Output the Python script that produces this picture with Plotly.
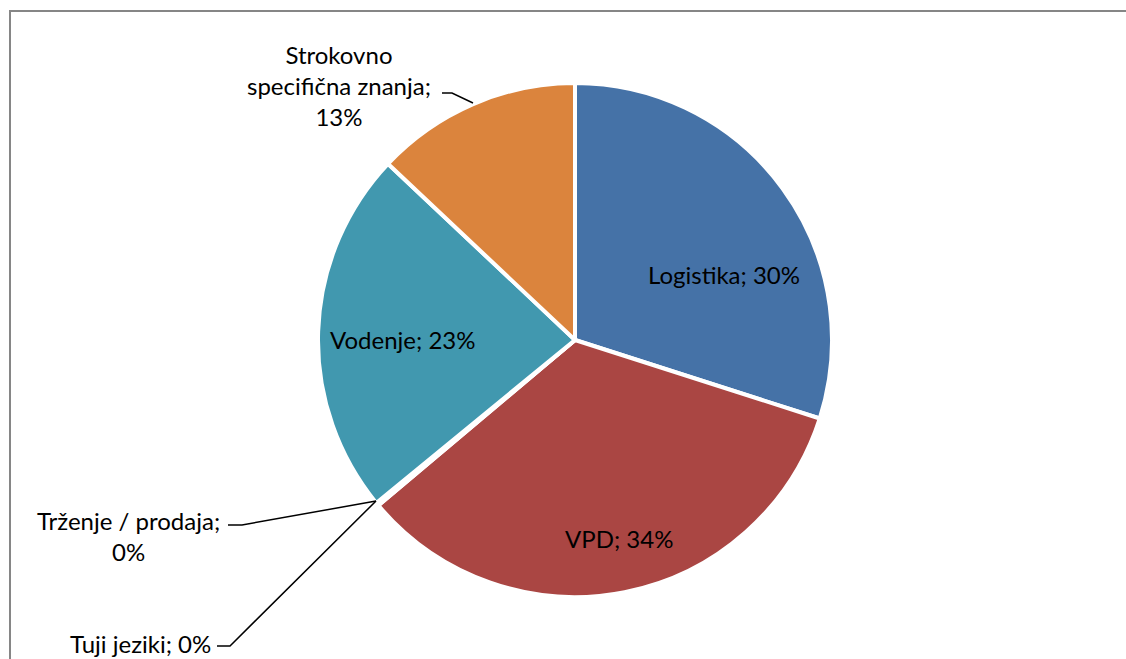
import plotly.graph_objects as go

W, H = 1126, 659

# slice data, clockwise from 12 o'clock
labels = ["Logistika", "VPD", "Tuji jeziki", "Trženje / prodaja", "Vodenje", "Strokovno specifična znanja"]
values = [30, 34, 0.1, 0.1, 23, 13]
shown_pct = [30, 34, 0, 0, 23, 13]
colors = ["#4572A7", "#AA4643", "#89A54E", "#71588F", "#4198AF", "#DB843D"]

# label text split into lines (as in the original chart)
label_lines = [
    ["Logistika; {p}%"],
    ["VPD; {p}%"],
    ["Tuji jeziki; {p}%"],
    ["Trženje / prodaja;", "{p}%"],
    ["Vodenje; {p}%"],
    ["Strokovno", "specifična znanja;", "{p}%"],
]

# label anchor positions in pixels (centre of text block)
label_pos = [(724, 274), (619, 538), (140, 643), (128, 536), (403, 339), (339, 86)]

# leader lines for the outside labels, pixel points
leaders = [
    None, None,
    [(217, 646), (230, 646), (376, 501)],
    [(228, 525), (242, 525), (376, 501)],
    None,
    [(442, 93), (452, 93), (473, 103)],
]

FONT = "Lato, 'Open Sans', sans-serif"
FS = 24


def px(x, y):
    return x / W, 1 - y / H


cx, cy, r = 575, 340, 257

fig = go.Figure(go.Pie(
    labels=labels,
    values=values,
    sort=False,
    direction="clockwise",
    rotation=0,
    marker=dict(colors=colors, line=dict(color="white", width=4)),
    textinfo="none",
    hoverinfo="label+percent",
    showlegend=False,
    domain=dict(x=[(cx - r) / W, (cx + r) / W], y=[1 - (cy + r) / H, 1 - (cy - r) / H]),
))

annotations = []
for lines, p, (x, y) in zip(label_lines, shown_pct, label_pos):
    text = "<br>".join(s.format(p=p) for s in lines)
    ax, ay = px(x, y)
    annotations.append(dict(
        x=ax, y=ay, xref="paper", yref="paper", text=text, showarrow=False,
        xanchor="center", yanchor="middle", align="center",
        font=dict(family=FONT, size=FS, color="#000000"),
    ))

shapes = [dict(
    type="rect", xref="paper", yref="paper",
    x0=10 / W, y0=-0.2, x1=1.2, y1=1 - 11 / H,
    line=dict(color="#868686", width=2), fillcolor="rgba(0,0,0,0)",
)]
for pts in leaders:
    if not pts:
        continue
    path = ""
    for i, (x, y) in enumerate(pts):
        ax, ay = px(x, y)
        path += ("M" if i == 0 else "L") + f"{ax},{ay} "
    shapes.append(dict(type="path", xref="paper", yref="paper", path=path.strip(),
                       line=dict(color="black", width=1.5)))

fig.update_layout(
    width=W, height=H,
    margin=dict(l=0, r=0, t=0, b=0),
    paper_bgcolor="white",
    plot_bgcolor="white",
    annotations=annotations,
    shapes=shapes,
)

# drop the default page margin so the figure sits at the window corner
fig.write_html("out.html", config={"displayModeBar": False},
               post_script="document.body.style.margin='0';")
